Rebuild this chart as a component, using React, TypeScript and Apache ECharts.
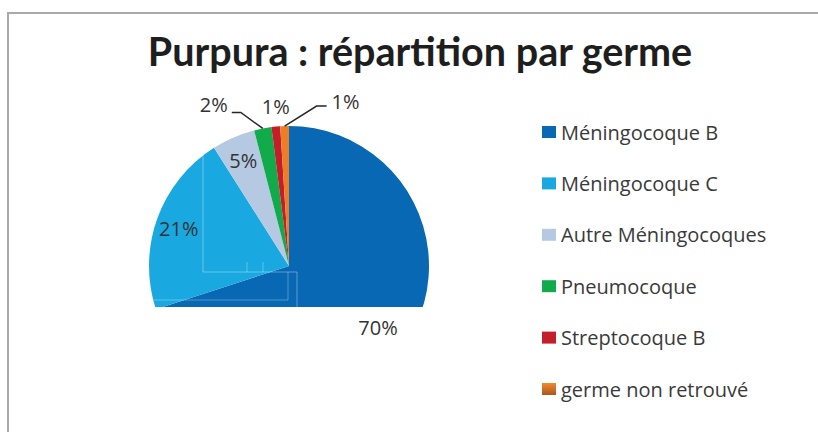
import React, { useEffect, useRef } from "react";
import * as echarts from "echarts";

const titleText = "Purpura : répartition par germe";
const categories = [
  "Méningocoque B",
  "Méningocoque C",
  "Autre Méningocoques",
  "Pneumocoque",
  "Streptocoque B",
  "germe non retrouvé",
];
const values = [70, 21, 5, 2, 1, 1];
const colors = ["#0868B4", "#1AA8E0", "#B5C9E3", "#12AB4C", "#C21F2B", "#EE7E26"];

const CENTER: [number, number] = [289, 266];
const R = 140;
const FONT = "'Open Sans', sans-serif";

export default function App() {
  const ref = useRef<HTMLDivElement>(null);

  useEffect(() => {
    if (!ref.current) return;
    const chart = echarts.init(ref.current, null, { renderer: "svg" });

    const baseData = categories.map((name, i) => ({
      name,
      value: values[i],
      itemStyle: { color: colors[i] },
    }));

    const labelData = categories.map((name, i) => {
      const outside = i >= 3;
      return {
        name,
        value: values[i],
        label: outside ? { position: "outside" } : { position: "inside" },
        labelLine: outside
          ? {
              show: true,
              length: 10,
              length2: 10,
              lineStyle: {
                color: "#262626",
                width: 1.5,
                opacity: i === 4 ? 0 : 1,
              },
            }
          : { show: false },
      };
    });

    const option: any = {
      animation: false,
      backgroundColor: "#ffffff",
      title: {
        text: titleText,
        left: 415,
        textAlign: "center",
        top: 25,
        textStyle: {
          fontFamily: "Lato, sans-serif",
          fontWeight: "bold",
          fontSize: 39.5,
          color: "#1e1e1e",
        },
      },
      legend: {
        orient: "vertical",
        left: 542,
        top: 122,
        padding: 0,
        itemWidth: 14,
        itemHeight: 12,
        itemGap: 31.4,
        icon: "rect",
        selectedMode: false,
        data: categories.map((name, i) =>
          i === 5
            ? {
                name,
                itemStyle: {
                  color: new echarts.graphic.LinearGradient(0, 0, 0, 1, [
                    { offset: 0, color: "#F28A2E" },
                    { offset: 1, color: "#A9561E" },
                  ]),
                },
              }
            : { name }
        ),
        textStyle: {
          fontFamily: FONT,
          fontSize: 20,
          lineHeight: 20,
          color: "#3a3a3a",
        },
      },
      graphic: [
        {
          type: "rect",
          z: -10,
          shape: { x: 8, y: 13, width: 900, height: 500 },
          style: { fill: "none", stroke: "#a9a9a9", lineWidth: 2 },
        },
        {
          type: "polyline",
          z: 5,
          silent: true,
          shape: { points: [[203, 152], [203, 272], [297, 272], [297, 307]] },
          style: { fill: "none", stroke: "rgba(255,255,255,0.35)", lineWidth: 1 },
        },
        {
          type: "polyline",
          z: 5,
          silent: true,
          shape: { points: [[148, 300], [288, 300], [288, 272]] },
          style: { fill: "none", stroke: "rgba(255,255,255,0.3)", lineWidth: 1 },
        },
        {
          type: "line",
          z: 5,
          silent: true,
          shape: { x1: 247, y1: 262, x2: 247, y2: 272 },
          style: { stroke: "rgba(255,255,255,0.3)", lineWidth: 1 },
        },
        {
          type: "line",
          z: 5,
          silent: true,
          shape: { x1: 263, y1: 262, x2: 263, y2: 272 },
          style: { stroke: "rgba(255,255,255,0.3)", lineWidth: 1 },
        },
        {
          type: "rect",
          z: 10,
          silent: true,
          shape: { x: 130, y: 307, width: 330, height: 120 },
          style: { fill: "#ffffff" },
        },
      ],
      series: [
        {
          type: "pie",
          z: 2,
          center: CENTER,
          radius: R,
          startAngle: 90,
          clockwise: true,
          silent: true,
          label: { show: false },
          labelLine: { show: false },
          emphasis: { disabled: true },
          itemStyle: { borderWidth: 0 },
          data: baseData,
        },
        {
          type: "pie",
          z: 20,
          center: CENTER,
          radius: [R * 0.6, R],
          startAngle: 90,
          clockwise: true,
          silent: true,
          avoidLabelOverlap: false,
          emphasis: { disabled: true },
          itemStyle: { color: "rgba(0,0,0,0)", borderWidth: 0 },
          label: {
            show: true,
            fontFamily: FONT,
            fontSize: 20,
            color: "#333333",
            formatter: (p: any) => Math.round(p.percent) + "%",
          },
          labelLayout: (p: any) => {
            const pts = p.labelLinePoints;
            if (p.dataIndex === 0) return { dx: -4, dy: -6 };
            if (p.dataIndex === 1) return { dx: -2, dy: 1 };
            if (!pts) return {};
            const s = pts[0];
            if (p.dataIndex === 3) {
              const k = [s[0] - 22, s[1] - 16];
              const e = [k[0] - 9, k[1]];
              return {
                x: e[0] - 4,
                y: e[1] - 8,
                align: "right",
                verticalAlign: "middle",
                labelLinePoints: [s, k, e],
              };
            }
            if (p.dataIndex === 4) {
              return {
                x: s[0],
                y: s[1] - 20,
                align: "center",
                verticalAlign: "middle",
                labelLinePoints: [s, s, s],
              };
            }
            if (p.dataIndex === 5) {
              const k = [s[0] + 32, s[1] - 20];
              const e = [k[0] + 10, k[1]];
              return {
                x: e[0] + 5,
                y: e[1] - 5,
                align: "left",
                verticalAlign: "middle",
                labelLinePoints: [s, k, e],
              };
            }
            return {};
          },
          data: labelData,
        },
      ],
    };

    chart.setOption(option);
    return () => chart.dispose();
  }, []);

  return (
    <div
      style={{
        position: "fixed",
        left: 0,
        top: 0,
        width: 818,
        height: 432,
        background: "#ffffff",
      }}
    >
      <div ref={ref} style={{ width: 818, height: 432 }} />
    </div>
  );
}
